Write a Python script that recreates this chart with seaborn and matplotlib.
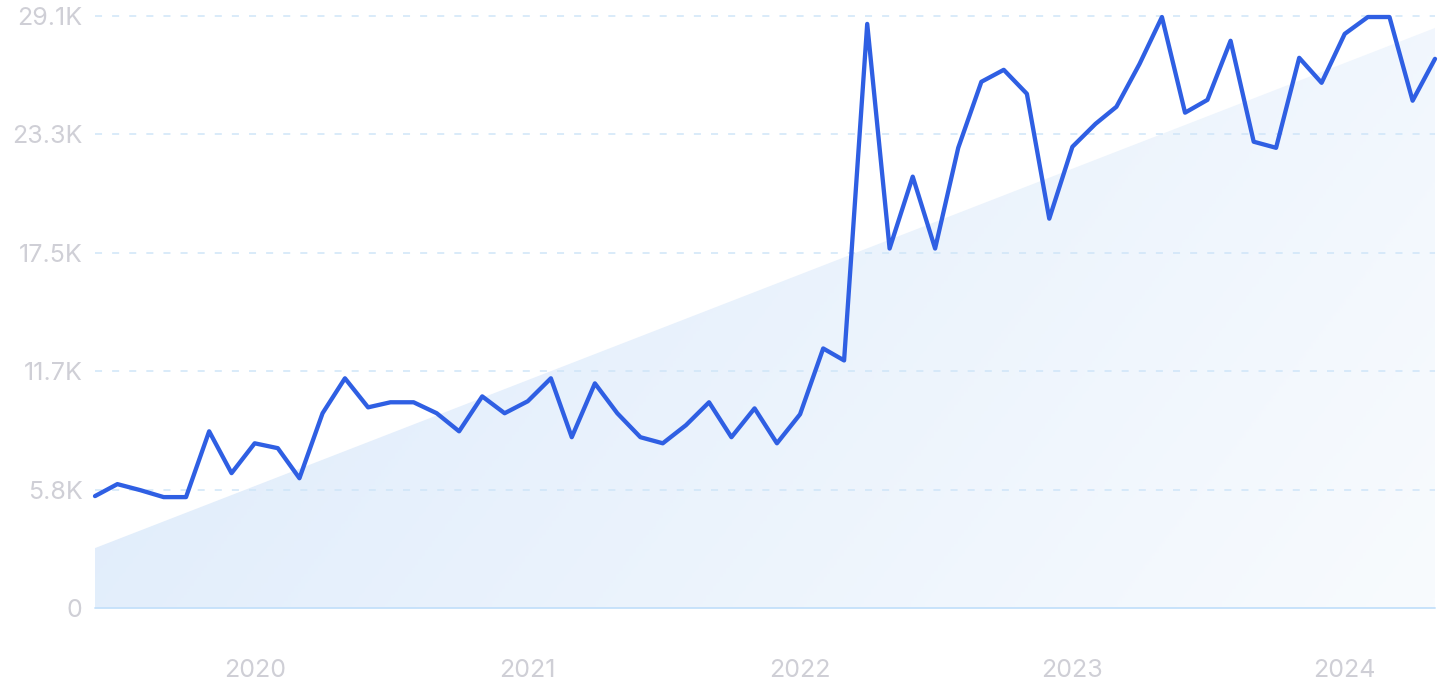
import numpy as np
import pandas as pd
import matplotlib
matplotlib.use("Agg")
import matplotlib.pyplot as plt
import matplotlib.dates as mdates
import seaborn as sns
from matplotlib.colors import LinearSegmentedColormap
from matplotlib.patches import Polygon

# ---- data ----
months = pd.date_range("2019-06-01", periods=60, freq="MS")
values = [5510, 6100, 5800, 5460, 5460, 8700, 6640, 8110, 7870, 6390,
          9590, 11310, 9880, 10130, 10130, 9590, 8700, 10420, 9590, 10180,
          11310, 8410, 11060, 9590, 8410, 8110, 9000, 10130, 8410, 9830,
          8110, 9540, 12780, 12190, 28760, 17700, 21240, 17700, 22660, 25910,
          26500, 25320, 19170, 22710, 23840, 24680, 26790, 29100, 24390, 25020,
          27930, 22960, 22660, 27090, 25860, 28270, 29100, 29100, 24980, 27040]
trend_start = 2950
trend_end = 28560
y_ticks = [0, 5830, 11660, 17490, 23320, 29150]
y_tick_labels = ["0", "5.8K", "11.7K", "17.5K", "23.3K", "29.1K"]
year_ticks = ["2020-01-01", "2021-01-01", "2022-01-01", "2023-01-01", "2024-01-01"]
year_labels = ["2020", "2021", "2022", "2023", "2024"]

# ---- style ----
sns.set_theme(style="white")
plt.rcParams["font.family"] = ["Inter", "DejaVu Sans"]

fig = plt.figure(figsize=(14.4, 7), dpi=100)
ax = fig.add_axes([95 / 1440, 92 / 700, 1340 / 1440, 592 / 700])

x0n = mdates.date2num(months[0])
x1n = mdates.date2num(months[-1])
ymax = y_ticks[-1]

# gradient trend area
poly = Polygon([(x0n, 0), (x0n, trend_start), (x1n, trend_end), (x1n, 0)],
               closed=True, facecolor="none", edgecolor="none")
ax.add_patch(poly)
X, Y = np.meshgrid(np.linspace(0, 1, 400), np.linspace(0, 1, 200))
T = 0.75 * X + 0.25 * (1 - Y)
cmap = LinearSegmentedColormap.from_list("g", ["#DCEAFB", "#F8FBFE"])
im = ax.imshow(T, cmap=cmap, extent=[x0n, x1n, 0, ymax], origin="lower",
               aspect="auto", zorder=1, vmin=0, vmax=1, interpolation="bilinear")
im.set_clip_path(poly)

# grid
for yv in y_ticks[1:]:
    ax.axhline(yv, color="#CFE5F8", lw=1.1, dashes=(4.6, 6.6), zorder=2)
ax.axhline(0, color="#C4E0FA", lw=1.3, zorder=2)

# line
sns.lineplot(x=months, y=values, ax=ax, color="#2F5FE3", lw=3.1, zorder=3)
for ln in ax.get_lines():
    ln.set_clip_on(False)

ax.set_xlim(months[0], months[-1])
ax.set_ylim(0, ymax)
ax.set_yticks(y_ticks, y_tick_labels)
ax.set_xticks(pd.to_datetime(year_ticks), year_labels)
ax.tick_params(axis="both", length=0, labelsize=18, labelcolor="#CFCFD6")
ax.tick_params(axis="y", pad=9)
ax.tick_params(axis="x", pad=37)
ax.set_xlabel("")
ax.set_ylabel("")
sns.despine(ax=ax, left=True, bottom=True)
ax.grid(False)

fig.savefig("out.png", dpi=100, facecolor="white")
